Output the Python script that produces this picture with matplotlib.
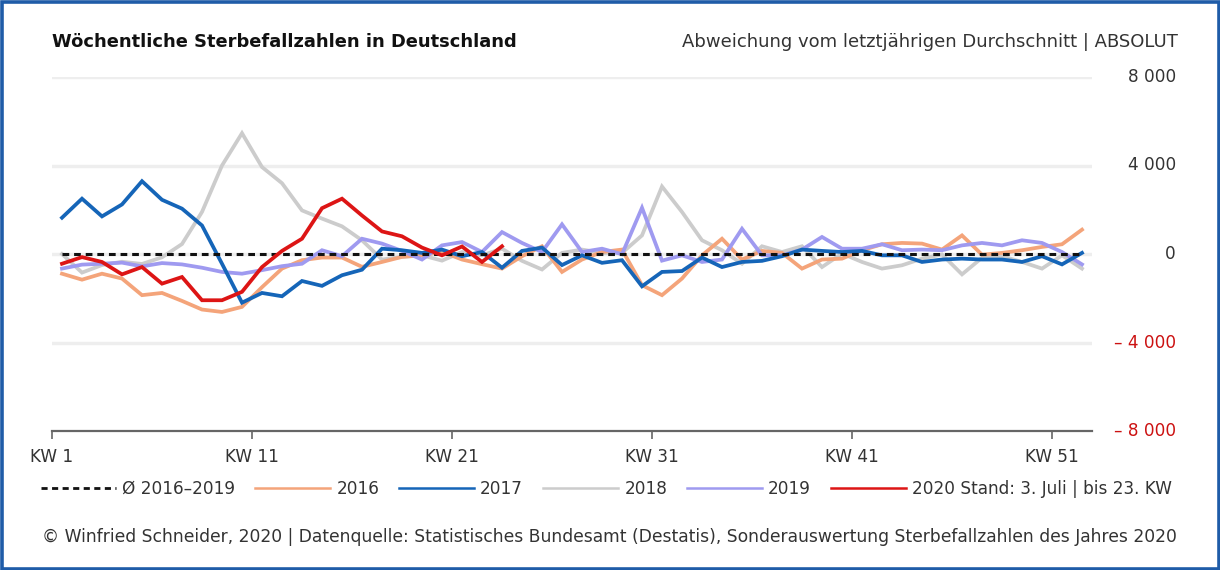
import matplotlib
matplotlib.use("Agg")
import matplotlib.pyplot as plt
from matplotlib.patches import Rectangle
from matplotlib.lines import Line2D
import numpy as np

# ---------------- data (deviation from average, weekly) ----------------
weeks = list(range(1, 53))
tick_weeks = [1, 11, 21, 31, 41, 51]
tick_labels = ["KW 1", "KW 11", "KW 21", "KW 31", "KW 41", "KW 51"]
y_ticks = [8000, 4000, 0, -4000, -8000]
y_tick_labels = ["8 000", "4 000", "0", "– 4 000", "– 8 000"]

avg_2016_2019 = [0] * 52

y2016 = [-890, -1160, -890, -1110, -1860, -1760, -2120, -2510, -2620, -2390,
         -1500, -660, -280, -160, -160, -580, -360, -130, -60, 100,
         -250, -460, -660, -100, 350, -810, -250, 90, 200, -1410,
         -1860, -1110, -60, 690, -250, 140, 50, -660, -250, -210,
         170, 440, 500, 470, 200, 840, -30, 50, 170, 320,
         440, 1100]

y2017 = [1640, 2500, 1700, 2240, 3290, 2450, 2050, 1290, -440, -2200,
         -1760, -1910, -1220, -1440, -960, -710, 240, 170, 50, 200,
         -100, 90, -620, 140, 290, -500, -60, -400, -280, -1460,
         -810, -770, -160, -590, -360, -310, -100, 200, 140, 90,
         140, -60, -60, -360, -250, -210, -250, -250, -360, -100,
         -470, 50]

y2018 = [0, -840, -500, -350, -450, -150, 450, 1900, 4000, 5460,
         3930, 3200, 1970, 1600, 1250, 620, -250, -130, -60, -300,
         90, -60, 240, -310, -700, 50, 200, 50, 50, 840,
         3050, 1900, 620, 170, -440, 350, 90, 350, -590, 20,
         -360, -660, -510, -210, -20, -920, -170, -100, -360, -660,
         -60, -660]

y2019 = [-660, -480, -440, -390, -560, -410, -470, -620, -810, -890,
         -730, -550, -440, 170, -100, 690, 470, 140, -250, 390,
         540, 90, 990, 500, 90, 1340, 90, 240, -10, 2090,
         -300, -60, -360, -250, 1140, -60, -60, 200, 770, 240,
         240, 440, 170, 200, 170, 390, 500, 390, 620, 500,
         90, -470]

y2020 = [-440, -140, -360, -920, -590, -1340, -1040, -2090, -2090, -1710,
         -590, 140, 690, 2070, 2500, 1740, 1020, 800, 290, -60,
         340, -360, 350]

# ---------------- styling ----------------
c_avg = "#111111"
c16 = "#f4a47a"
c17 = "#1565b8"
c18 = "#cccccc"
c19 = "#9f9af0"
c20 = "#dd1515"
txt = "#333333"
neg = "#cc1111"

W, H = 1220, 570
fig = plt.figure(figsize=(W / 100, H / 100), dpi=100)
fig.patch.set_facecolor("white")

ax = fig.add_axes([52 / W, (H - 431) / H, (1092 - 52) / W, (431 - 77) / H])
ax.set_facecolor("white")

# gridlines
for yv in y_ticks:
    if yv != -8000:
        ax.axhline(yv, color="#eeeeee", lw=2.5, zorder=0)

x = np.array(weeks) - 0.5  # points centred in each week band
lw = 2.7
ax.plot(x, y2018, color=c18, lw=lw, zorder=2, solid_joinstyle="miter")
ax.plot(x, y2016, color=c16, lw=lw, zorder=3, solid_joinstyle="miter")
ax.plot(x, y2019, color=c19, lw=lw, zorder=3, solid_joinstyle="miter")
ax.plot(x, y2017, color=c17, lw=lw, zorder=4, solid_joinstyle="miter")
ax.plot(x[:len(y2020)], y2020, color=c20, lw=lw, zorder=6, solid_joinstyle="miter")
ax.plot(x, avg_2016_2019, color=c_avg, lw=2.2, ls=(0, (2.2, 1.6)), zorder=5)

ax.set_xlim(0, 52)
ax.set_ylim(-8000, 8000)

for s in ["top", "right", "left"]:
    ax.spines[s].set_visible(False)
ax.spines["bottom"].set_color("#666666")
ax.spines["bottom"].set_linewidth(1.6)
ax.spines["bottom"].set_position(("data", -8000))

ax.set_xticks([w - 1 for w in tick_weeks])
ax.set_xticklabels(tick_labels, fontsize=12.2, color=txt)
ax.tick_params(axis="x", length=6, width=1.2, color="#666666", pad=6)
ax.set_yticks([])

# y tick labels on right, right aligned
trans = ax.get_yaxis_transform()
for yv, lab in zip(y_ticks, y_tick_labels):
    ax.text(1.0 + (1176 - 1092) / (1092 - 52), yv, lab, transform=trans,
            ha="right", va="center", fontsize=12.2,
            color=neg if yv < 0 else txt, clip_on=False)

# titles
fig.text(52 / W, 1 - 42 / H, "Wöchentliche Sterbefallzahlen in Deutschland",
         fontsize=12.85, fontweight="bold", color="#111111", ha="left", va="center")
fig.text(1178 / W, 1 - 42 / H, "Abweichung vom letztjährigen Durchschnitt | ABSOLUT",
         fontsize=13, color=txt, ha="right", va="center")

# legend
hl = 1.8
handles = [
    Line2D([], [], color=c_avg, lw=2.0, ls=(0, (2.2, 1.6))),
    Line2D([], [], color=c16, lw=hl),
    Line2D([], [], color=c17, lw=hl),
    Line2D([], [], color=c18, lw=hl),
    Line2D([], [], color=c19, lw=hl),
    Line2D([], [], color=c20, lw=hl),
]
labels = ["Ø 2016–2019", "2016", "2017", "2018", "2019", "2020 Stand: 3. Juli | bis 23. KW"]
leg = fig.legend(handles, labels, loc="center left", bbox_to_anchor=(41 / W, 1 - 489 / H),
                 ncol=6, frameon=False, fontsize=12.15, handlelength=4.45,
                 handletextpad=0.36, columnspacing=1.18, borderpad=0, borderaxespad=0)
for t in leg.get_texts():
    t.set_color(txt)

# footer
fig.text(42 / W, 1 - 537 / H,
         "© Winfried Schneider, 2020 | Datenquelle: Statistisches Bundesamt (Destatis), "
         "Sonderauswertung Sterbefallzahlen des Jahres 2020",
         fontsize=12.3, color=txt, ha="left", va="center")

# border
fig.patches.append(Rectangle((1.5 / W, 1.5 / H), 1 - 3 / W, 1 - 3 / H,
                             transform=fig.transFigure, fill=False,
                             edgecolor="#1f5ca8", lw=2.6))

fig.savefig("out.png", dpi=100, facecolor="white")
